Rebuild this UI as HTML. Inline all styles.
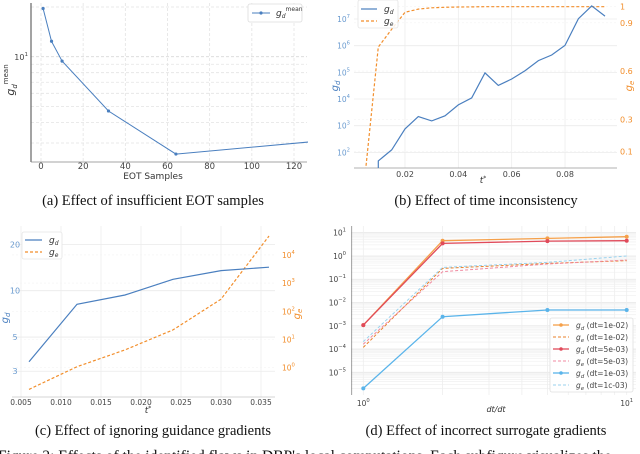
<!DOCTYPE html>
<html><head><meta charset="utf-8">
<style>
html,body{margin:0;padding:0;background:#fff;width:640px;height:454px;overflow:hidden}
svg{display:block}
text{font-family:"DejaVu Sans","Liberation Sans",sans-serif}
.cap{font-family:"Liberation Serif",serif;font-size:14.5px;fill:#111}
</style></head>
<body>
<svg id="fig" width="640" height="454" viewBox="0 0 640 454" xmlns="http://www.w3.org/2000/svg">
<defs>
<clipPath id="clipA"><rect x="31" y="3" width="277" height="159"/></clipPath>
<clipPath id="clipB"><rect x="354" y="0" width="264" height="168"/></clipPath>
<clipPath id="clipC"><rect x="12" y="226" width="264" height="171"/></clipPath>
<clipPath id="clipD"><rect x="351" y="226" width="285" height="169"/></clipPath>
</defs>
<text class="cap" x="153" y="205" text-anchor="middle">(a) Effect of insufficient EOT samples</text>
<text class="cap" x="486" y="205" text-anchor="middle">(b) Effect of time inconsistency</text>
<text class="cap" x="153" y="435" text-anchor="middle">(c) Effect of ignoring guidance gradients</text>
<text class="cap" x="486" y="435" text-anchor="middle">(d) Effect of incorrect surrogate gradients</text>
<text class="cap" x="-2" y="461" style="font-size:15.5px">Figure 2: Effects of the identified flaws in DBP's local computations. Each subfigure visualizes the</text>
</svg>
<script>
// ---- data ----
const aSamples = [1, 5, 10, 32, 64, 128];
const aMean = [19.6, 12.4, 9.4, 4.69, 2.57, 3.05];
const aXTicks = [0, 20, 40, 60, 80, 100, 120];

const bT = [0.01, 0.01, 0.015, 0.02, 0.025, 0.03, 0.035, 0.04, 0.045, 0.05, 0.055, 0.06, 0.065, 0.07, 0.075, 0.08, 0.085, 0.09, 0.095];
const bGdLog = [-2, 1.68, 2.09, 2.88, 3.34, 3.18, 3.37, 3.78, 4.04, 4.98, 4.51, 4.75, 5.06, 5.44, 5.65, 6.01, 7.01, 7.49, 7.11];
const bTe = [0.005, 0.01, 0.015, 0.02, 0.025, 0.03, 0.035, 0.04, 0.045, 0.05, 0.055, 0.06, 0.065, 0.07, 0.075, 0.08, 0.085, 0.09, 0.095];
const bGe = [-0.05, 0.75, 0.86, 0.965, 0.985, 0.993, 0.996, 0.998, 0.999, 1, 1, 1, 1, 1, 1, 1, 1, 1, 1];
const bXTicks = [0.02, 0.04, 0.06, 0.08];
const bLeftTicks = [2, 3, 4, 5, 6, 7];
const bRightTicks = [0.1, 0.3, 0.6, 0.9, 1];

const cT = [0.006, 0.012, 0.018, 0.024, 0.030, 0.036];
const cGd = [3.46, 8.16, 9.38, 11.86, 13.5, 14.2];
const cGeLog = [-0.77, 0.035, 0.63, 1.34, 2.43, 4.67];
const cXTicks = [0.005, 0.010, 0.015, 0.020, 0.025, 0.030, 0.035];
const cLeftTicks = [3, 5, 10, 20];
const cRightTicks = [0, 1, 2, 3, 4];

const dRatio = [1, 2, 5, 10];
const dGd1e2 = [-2.97, 0.656, 0.756, 0.828];
const dGe1e2 = [-3.93, -0.533, -0.318, -0.203];
const dGd5e3 = [-2.97, 0.54, 0.64, 0.656];
const dGe5e3 = [-3.79, -0.676, -0.347, -0.175];
const dGd1e3 = [-5.69, -2.61, -2.32, -2.32];
const dGe1e3 = [-3.68, -0.49, -0.275, 0.0];
const dYTicks = [1, 0, -1, -2, -3, -4, -5];
const dLegend = ['(dt=1e-02)', '(dt=1e-02)', '(dt=5e-03)', '(dt=5e-03)', '(dt=1e-03)', '(dt=1c-03)'];

const svg = document.getElementById('fig');
const NS = 'http://www.w3.org/2000/svg';
function mk(tag, at, parent) {
  const e = document.createElementNS(NS, tag);
  for (const k in at) e.setAttribute(k, at[k]);
  (parent || svg).appendChild(e);
  return e;
}
function pathOf(xs, ys) { return xs.map((x, i) => (i ? 'L' : 'M') + x.toFixed(1) + ',' + ys[i].toFixed(1)).join(''); }
function supText(x, y, base, sup, color, anchor, size) {
  const t = mk('text', {x: x, y: y, fill: color, 'font-size': size || 8, 'text-anchor': anchor || 'end'});
  t.appendChild(document.createTextNode(base));
  const s = mk('tspan', {dy: -4, 'font-size': (size || 8) * 0.7}, t);
  s.textContent = sup;
  return t;
}
const BLUE = '#4a7fbf', ORANGE = '#f28e2b', GRID = '#e3e3e3';

// ================= Panel A =================
const xA = v => 41 + v * 253 / 120;
const yA = v => 56.7 - (Math.log10(v) - 1) * 165;
const gA = mk('g', {});


aXTicks.forEach(v => {
  const l = mk('line', {x1: xA(v), x2: xA(v), y1: 3, y2: 162, stroke: GRID, 'stroke-dasharray': '3,2', 'stroke-width': 0.8}, gA);
  
  
  const t = mk('text', {x: xA(v), y: 169, 'font-size': 8.5, fill: '#444', 'text-anchor': 'middle'}, gA);
  t.textContent = v;
  
  
});
[3, 4, 5, 6, 7, 8, 9, 10, 20].forEach(v => {
  const l = mk('line', {x1: 31, x2: 307, y1: yA(v), y2: yA(v), stroke: v === 10 ? '#d8d8d8' : GRID, 'stroke-dasharray': '3,2', 'stroke-width': 0.8}, gA);
  
  
});
let e = mk('line', {x1: 31, x2: 31, y1: 3, y2: 162, stroke: '#666', 'stroke-width': 1.2}, gA);


e = mk('line', {x1: 31, x2: 307, y1: 162, y2: 162, stroke: '#888', 'stroke-width': 0.8}, gA);


e = supText(28, 60, '10', '1', '#444', 'end', 8);


e = mk('text', {x: 153, y: 179, 'font-size': 9, fill: '#333', 'text-anchor': 'middle'}, gA);
e.textContent = 'EOT Samples';


e = mk('text', {transform: 'translate(14,80) rotate(-90)', 'font-size': 11, fill: '#333', 'text-anchor': 'middle', 'font-style': 'italic'}, gA);
e.innerHTML = 'g<tspan dy="3" font-size="7">d</tspan><tspan dy="-9" font-size="7" font-style="normal">mean</tspan>';


const gAd = mk('g', {'clip-path': 'url(#clipA)'}, gA);
e = mk('path', {d: pathOf(aSamples.map(xA), aMean.map(yA)), fill: 'none', stroke: BLUE, 'stroke-width': 1}, gAd);


aSamples.forEach((s, i) => {
  const c = mk('circle', {cx: xA(s), cy: yA(aMean[i]), r: 1.6, fill: BLUE}, gAd);
  
  
});
e = mk('rect', {x: 248, y: 4, width: 54, height: 18, fill: '#fff', stroke: '#ddd', 'stroke-width': 0.8, rx: 2}, gA);


mk('line', {x1: 252, x2: 270, y1: 13, y2: 13, stroke: BLUE, 'stroke-width': 1}, gA);
mk('circle', {cx: 261, cy: 13, r: 1.6, fill: BLUE}, gA);
e = mk('text', {x: 276, y: 16, 'font-size': 9, fill: '#333', 'font-style': 'italic'}, gA);
e.innerHTML = 'g<tspan dy="2" font-size="6">d</tspan><tspan dy="-7" font-size="6" font-style="normal">mean</tspan>';



// ================= Panel B =================
const xB = t => 405 + (t - 0.02) * 2667;
const yBl = l => 19 - (l - 7) * 26.67;
const yBr = g => 6.7 + (1 - g) * 161;
const gB = mk('g', {});


bXTicks.forEach(v => {
  const l = mk('line', {x1: xB(v), x2: xB(v), y1: 0, y2: 168, stroke: '#ececec', 'stroke-width': 0.8}, gB);
  
  
  const t = mk('text', {x: xB(v), y: 177, 'font-size': 8, fill: '#444', 'text-anchor': 'middle'}, gB);
  t.textContent = v.toFixed(2);
  
  
});
bLeftTicks.forEach(l => {
  const g = mk('line', {x1: 354, x2: 617, y1: yBl(l), y2: yBl(l), stroke: '#ececec', 'stroke-width': 0.8}, gB);
  
  
  const t = supText(350, yBl(l) + 3, '10', String(l), '#6a9bd0', 'end', 7.5);
  
  
});
bRightTicks.forEach(g => {
  const t = mk('text', {x: 620, y: yBr(g) + 3, 'font-size': 8, fill: ORANGE}, gB);
  t.textContent = String(g);
  
  
  const d = mk('line', {x1: 354, x2: 617, y1: yBr(g), y2: yBr(g), stroke: '#f3f3f3', 'stroke-width': 0.6, 'stroke-dasharray': '2,2'}, gB);
  
  
});
e = mk('line', {x1: 354, x2: 617, y1: 168, y2: 168, stroke: '#999', 'stroke-width': 0.8}, gB);


e = mk('text', {x: 483, y: 183, 'font-size': 9, fill: '#333', 'text-anchor': 'middle', 'font-style': 'italic'}, gB);
e.innerHTML = 't<tspan dy="-3" font-size="6">*</tspan>';


e = mk('text', {transform: 'translate(338,86) rotate(-90)', 'font-size': 10, fill: BLUE, 'text-anchor': 'middle', 'font-style': 'italic'}, gB);
e.innerHTML = 'g<tspan dy="2" font-size="7">d</tspan>';


e = mk('text', {transform: 'translate(632,86) rotate(-90)', 'font-size': 10, fill: ORANGE, 'text-anchor': 'middle', 'font-style': 'italic'}, gB);
e.innerHTML = 'g<tspan dy="2" font-size="7">e</tspan>';


const gBd = mk('g', {'clip-path': 'url(#clipB)'}, gB);
e = mk('path', {d: pathOf(bTe.map(xB), bGe.map(yBr)), fill: 'none', stroke: ORANGE, 'stroke-width': 1.2, 'stroke-dasharray': '3,2'}, gBd);


e = mk('path', {d: pathOf(bT.map(xB), bGdLog.map(yBl)), fill: 'none', stroke: BLUE, 'stroke-width': 1.2}, gBd);


e = mk('rect', {x: 358, y: 0, width: 40, height: 28, fill: '#fff', 'fill-opacity': 0.85, stroke: '#e5e5e5', 'stroke-width': 0.8, rx: 2}, gB);


mk('line', {x1: 361, x2: 377, y1: 9, y2: 9, stroke: BLUE, 'stroke-width': 1.2}, gB);
mk('line', {x1: 361, x2: 377, y1: 21, y2: 21, stroke: ORANGE, 'stroke-width': 1.2, 'stroke-dasharray': '3,2'}, gB);
e = mk('text', {x: 384, y: 12, 'font-size': 9, fill: '#333', 'font-style': 'italic'}, gB);
e.innerHTML = 'g<tspan dy="2" font-size="6">d</tspan>';


e = mk('text', {x: 384, y: 24, 'font-size': 9, fill: '#333', 'font-style': 'italic'}, gB);
e.innerHTML = 'g<tspan dy="2" font-size="6">e</tspan>';



// ================= Panel C =================
const xC = t => 21 + (t - 0.005) * 8000;
const yCl = v => 290.7 - Math.log10(v / 10) * 154;
const yCr = l => 367.7 - l * 28.2;
const gC = mk('g', {});


cXTicks.forEach(v => {
  const l = mk('line', {x1: xC(v), x2: xC(v), y1: 226, y2: 397, stroke: '#efefef', 'stroke-width': 0.8}, gC);
  
  
  const t = mk('text', {x: xC(v), y: 405, 'font-size': 7.5, fill: '#444', 'text-anchor': 'middle'}, gC);
  t.textContent = v.toFixed(3);
  
  
});
cLeftTicks.forEach(v => {
  const g = mk('line', {x1: 12, x2: 275, y1: yCl(v), y2: yCl(v), stroke: '#eaeaea', 'stroke-width': 0.8}, gC);
  
  
  const t = mk('text', {x: 15, y: yCl(v) + 3, 'font-size': 8, fill: '#6a9bd0', 'text-anchor': 'middle'}, gC);
  t.textContent = v;
  
  
});
cRightTicks.forEach(l => {
  const d = mk('line', {x1: 12, x2: 275, y1: yCr(l), y2: yCr(l), stroke: '#f3f3f3', 'stroke-width': 0.6, 'stroke-dasharray': '2,2'}, gC);
  
  
  const t = supText(282, yCr(l) + 3, '10', String(l), ORANGE, 'start', 7.5);
  
  
});
e = mk('line', {x1: 12, x2: 275, y1: 397, y2: 397, stroke: '#aaa', 'stroke-width': 0.6}, gC);


e = mk('text', {x: 148, y: 413, 'font-size': 9, fill: '#333', 'text-anchor': 'middle', 'font-style': 'italic'}, gC);
e.innerHTML = 't<tspan dy="-3" font-size="6">*</tspan>';


e = mk('text', {transform: 'translate(8,318) rotate(-90)', 'font-size': 10, fill: BLUE, 'text-anchor': 'middle', 'font-style': 'italic'}, gC);
e.innerHTML = 'g<tspan dy="2" font-size="7">d</tspan>';


e = mk('text', {transform: 'translate(300,314) rotate(-90)', 'font-size': 10, fill: ORANGE, 'text-anchor': 'middle', 'font-style': 'italic'}, gC);
e.innerHTML = 'g<tspan dy="2" font-size="7">e</tspan>';


const gCd = mk('g', {'clip-path': 'url(#clipC)'}, gC);
e = mk('path', {d: pathOf(cT.map(xC), cGeLog.map(yCr)), fill: 'none', stroke: ORANGE, 'stroke-width': 1.2, 'stroke-dasharray': '3,2'}, gCd);


e = mk('path', {d: pathOf(cT.map(xC), cGd.map(yCl)), fill: 'none', stroke: BLUE, 'stroke-width': 1.2}, gCd);


e = mk('rect', {x: 22, y: 232, width: 40, height: 27, fill: '#fff', stroke: '#e5e5e5', 'stroke-width': 0.8, rx: 2}, gC);


mk('line', {x1: 25, x2: 42, y1: 240, y2: 240, stroke: BLUE, 'stroke-width': 1.2}, gC);
mk('line', {x1: 25, x2: 42, y1: 252, y2: 252, stroke: ORANGE, 'stroke-width': 1.2, 'stroke-dasharray': '3,2'}, gC);
e = mk('text', {x: 49, y: 243, 'font-size': 9, fill: '#333', 'font-style': 'italic'}, gC);
e.innerHTML = 'g<tspan dy="2" font-size="6">d</tspan>';


e = mk('text', {x: 49, y: 255, 'font-size': 9, fill: '#333', 'font-style': 'italic'}, gC);
e.innerHTML = 'g<tspan dy="2" font-size="6">e</tspan>';



// ================= Panel D =================
const xD = r => 363.3 + Math.log10(r) * 263.4;
const yD = l => 232.7 - (l - 1) * 23.27;
const gD = mk('g', {});


for (let dec = -6; dec <= 1; dec++) {
  for (let m = 1; m < 10; m++) {
    const y = yD(dec + Math.log10(m));
    if (y < 226 || y > 395) continue;
    const g = mk('line', {x1: 351, x2: 636, y1: y, y2: y, stroke: m === 1 ? '#e6e6e6' : '#f2f2f2', 'stroke-width': 0.8}, gD);
    
    
  }
}
for (let m = 1; m <= 10; m++) {
  const x = xD(m);
  const g = mk('line', {x1: x, x2: x, y1: 226, y2: 395, stroke: '#eeeeee', 'stroke-width': 0.8}, gD);
  
  
}
dYTicks.forEach(l => {
  const t = supText(346, yD(l) + 3, '10', l < 0 ? '\u2212' + (-l) : String(l), '#444', 'end', 7.5);
  
  
});
[1, 10].forEach((r, i) => {
  const t = supText(xD(r), 406, '10', String(i), '#444', 'middle', 7.5);
  
  
});
e = mk('line', {x1: 351.7, x2: 351.7, y1: 226, y2: 395, stroke: '#888', 'stroke-width': 0.8}, gD);


e = mk('text', {x: 496, y: 412, 'font-size': 8, fill: '#333', 'text-anchor': 'middle', 'font-style': 'italic'}, gD);
e.textContent = 'dt/dt';


const dSeries = [
  [dGd1e2, '#f5a04a', false, true],
  [dGe1e2, '#e8802a', true, false],
  [dGd5e3, '#e04a5a', false, true],
  [dGe5e3, '#f08aa0', true, false],
  [dGd1e3, '#5ab4ea', false, true],
  [dGe1e3, '#9ad2ee', true, false]
];
const gDd = mk('g', {'clip-path': 'url(#clipD)'}, gD);
dSeries.forEach(s => {
  const p = mk('path', {d: pathOf(dRatio.map(xD), s[0].map(yD)), fill: 'none', stroke: s[1], 'stroke-width': s[3] ? 1.3 : 1, 'stroke-dasharray': s[2] ? '3,2' : 'none'}, gDd);
  
  
  if (s[3]) dRatio.forEach((r, i) => {
    const c = mk('circle', {cx: xD(r), cy: yD(s[0][i]), r: 2, fill: s[1]}, gDd);
    
    
  });
});
e = mk('rect', {x: 550, y: 318, width: 83, height: 74, fill: '#fff', 'fill-opacity': 0.9, stroke: '#e0e0e0', 'stroke-width': 0.8, rx: 2}, gD);


dSeries.forEach((s, i) => {
  const y = 325 + i * 12;
  mk('line', {x1: 553, x2: 569, y1: y, y2: y, stroke: s[1], 'stroke-width': s[3] ? 1.3 : 1, 'stroke-dasharray': s[2] ? '3,2' : 'none'}, gD);
  if (s[3]) mk('circle', {cx: 561, cy: y, r: 1.8, fill: s[1]}, gD);
  const t = mk('text', {x: 576, y: y + 3, 'font-size': 7.5, fill: '#444'}, gD);
  t.innerHTML = '<tspan font-style="italic">g</tspan><tspan dy="2" font-size="5.5" font-style="italic">' + (s[3] ? 'd' : 'e') + '</tspan><tspan dy="-2"> ' + dLegend[i] + '</tspan>';
  
  
});
</script>
</body></html>
